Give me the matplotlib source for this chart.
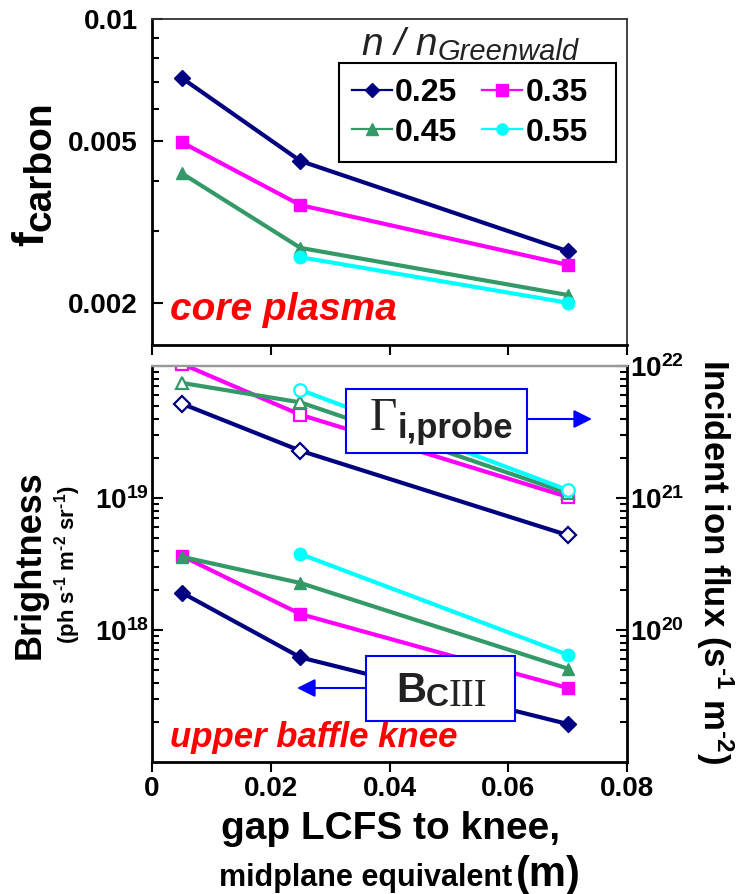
import matplotlib
matplotlib.use('Agg')
import numpy as np
import matplotlib.pyplot as plt
from matplotlib.lines import Line2D
from matplotlib.patches import Rectangle, FancyArrowPatch
from matplotlib.ticker import FixedLocator, FixedFormatter, LogLocator, NullFormatter

plt.rcParams['font.family'] = ['Liberation Sans', 'DejaVu Sans']
plt.rcParams['font.weight'] = 'bold'
plt.rcParams['mathtext.fontset'] = 'custom'
plt.rcParams['mathtext.rm'] = 'Liberation Sans:bold'
plt.rcParams['mathtext.bf'] = 'Liberation Sans:bold'
plt.rcParams['mathtext.it'] = 'Liberation Sans:italic'
plt.rcParams['mathtext.sf'] = 'Liberation Sans'

# ---------------- data ----------------
densities = ['0.25', '0.35', '0.45', '0.55']
colors = ['#000080', '#FF00FF', '#339966', '#00FFFF']
markers = ['D', 's', '^', 'o']
gap = [0.005, 0.025, 0.07]
nan = np.nan

fcarbon_025 = [0.00716, 0.00447, 0.00268]
fcarbon_035 = [0.00497, 0.00348, 0.00248]
fcarbon_045 = [0.00417, 0.00273, 0.00209]
fcarbon_055 = [nan, 0.00259, 0.00200]

bright_025 = [1.92e18, 6.2e17, 1.94e17]
bright_035 = [3.65e18, 1.32e18, 3.64e17]
bright_045 = [3.59e18, 2.27e18, 5.1e17]
bright_055 = [nan, 3.76e18, 6.5e17]

flux_025 = [5.19e21, 2.28e21, 5.23e20]
flux_035 = [1.04e22, 4.27e21, 1.02e21]
flux_045 = [7.45e21, 5.3e21, 1.09e21]
flux_055 = [nan, 6.6e21, 1.15e21]

fcarbon = [fcarbon_025, fcarbon_035, fcarbon_045, fcarbon_055]
bright = [bright_025, bright_035, bright_045, bright_055]
flux = [flux_025, flux_035, flux_045, flux_055]

xticks = [0, 0.02, 0.04, 0.06, 0.08]
xticklabels = ['0', '0.02', '0.04', '0.06', '0.08']
top_yticks = [0.002, 0.005, 0.01]
top_yticklabels = ['0.002', '0.005', '0.01']

# ---------------- figure ----------------
W, H = 736, 894
fig = plt.figure(figsize=(W / 100, H / 100), dpi=100)
renderer = fig.canvas.get_renderer()

def fx(px):
    return px / W

def fy(py):
    return 1 - py / H

L, R = 152, 627
ax1 = fig.add_axes([fx(L), fy(345), fx(R) - fx(L), fy(19) - fy(345)])
ax2 = fig.add_axes([fx(L), fy(762), fx(R) - fx(L), fy(366) - fy(762)])
ax3 = ax2.twinx()

LW = 3.0
for vals, c, m in zip(fcarbon, colors, markers):
    ms = 8 if m == 'D' else 9
    ax1.plot(gap, vals, color=c, marker=m, ms=ms, lw=LW, mec=c, mfc=c)

for vals, c, m in zip(bright, colors, markers):
    ms = 8 if m == 'D' else 9
    ax2.plot(gap, vals, color=c, marker=m, ms=ms, lw=LW, mec=c, mfc=c)

for vals, c, m in zip(flux, colors, markers):
    ms = 8 if m == 'D' else 9
    ax3.plot(gap, vals, color=c, marker=m, ms=ms, lw=LW, mec=c, mfc='white', mew=1.6)

# ---------------- axes styling ----------------
for ax in (ax1, ax2):
    ax.set_xlim(0, 0.08)
    ax.set_xticks(xticks)
    ax.tick_params(axis='x', direction='out', length=7, width=1.5)

ax1.set_xticklabels([])
ax2.set_xticklabels(xticklabels, fontsize=20, fontweight='bold')
ax2.tick_params(axis='x', pad=3)

ax1.set_yscale('log')
ax1.set_ylim(0.001574, 0.01)
ax1.yaxis.set_major_locator(FixedLocator(top_yticks))
ax1.yaxis.set_major_formatter(FixedFormatter(top_yticklabels))
ax1.yaxis.set_minor_locator(LogLocator(base=10, subs=np.arange(2, 10)))
ax1.yaxis.set_minor_formatter(NullFormatter())
ax1.tick_params(axis='y', which='major', direction='in', length=8, width=1.5, labelsize=20, pad=10)
ax1.tick_params(axis='y', which='minor', direction='in', length=5, width=1.5)

ax2.set_yscale('log')
ax2.set_ylim(1e17, 1e20)
ax2.yaxis.set_major_locator(FixedLocator([1e18, 1e19]))
ax2.yaxis.set_major_formatter(FixedFormatter([r'10$^{\mathbf{18}}$', r'10$^{\mathbf{19}}$']))
ax2.yaxis.set_minor_locator(LogLocator(base=10, subs=np.arange(2, 10)))
ax2.yaxis.set_minor_formatter(NullFormatter())
ax2.tick_params(axis='y', which='major', direction='in', length=8, width=1.5, labelsize=20, pad=2)
ax2.tick_params(axis='y', which='minor', direction='in', length=5, width=1.5)

ax3.set_yscale('log')
ax3.set_ylim(1e19, 1e22)
ax3.yaxis.set_major_locator(FixedLocator([1e20, 1e21, 1e22]))
ax3.yaxis.set_major_formatter(FixedFormatter([r'10$^{\mathbf{20}}$', r'10$^{\mathbf{21}}$', r'10$^{\mathbf{22}}$']))
ax3.yaxis.set_minor_locator(LogLocator(base=10, subs=np.arange(2, 10)))
ax3.yaxis.set_minor_formatter(NullFormatter())
ax3.tick_params(axis='y', which='major', direction='in', length=8, width=1.5, labelsize=20, pad=2)
ax3.tick_params(axis='y', which='minor', direction='in', length=5, width=1.5)

for lab in ax1.get_yticklabels() + ax2.get_yticklabels() + ax3.get_yticklabels():
    lab.set_fontweight('bold')

for ax in (ax1, ax2, ax3):
    for s in ('left', 'bottom', 'right'):
        ax.spines[s].set_linewidth(2)
        ax.spines[s].set_color('black')
ax1.spines['top'].set_color('#333333')
ax1.spines['top'].set_linewidth(1.3)
ax1.spines['right'].set_color('#333333')
ax1.spines['right'].set_linewidth(1.3)
for ax in (ax2, ax3):
    ax.spines['top'].set_color('#999999')
    ax.spines['top'].set_linewidth(1.6)
ax2.spines['right'].set_visible(False)
ax3.spines['left'].set_visible(False)
ax3.spines['bottom'].set_visible(False)

# ---------------- helpers ----------------
def chain(x0, pieces, rotate=False):
    """Place text pieces one after another (horizontally, or upward if rotate)."""
    pos = x0
    for s, base, kw in pieces:
        if rotate:
            t = fig.text(fx(base), fy(pos), s, rotation=90, rotation_mode='anchor',
                         ha='left', va='baseline', **kw)
            bb = t.get_window_extent(renderer)
            pos -= bb.height
        else:
            t = fig.text(fx(pos), fy(base), s, ha='left', va='baseline', **kw)
            bb = t.get_window_extent(renderer)
            pos += bb.width
    return pos

# ---------------- legend ----------------
handles = []
for d, c, m in zip(densities, colors, markers):
    handles.append(Line2D([], [], color=c, marker=m, ms=7 if m == 'D' else 8, lw=1.6, mec=c, mfc=c, label=d))
order = [0, 2, 1, 3]
leg = ax1.legend([handles[i] for i in order], [densities[i] for i in order], ncol=2,
                 loc='upper left', bbox_to_anchor=(fx(352), fy(78)), bbox_transform=fig.transFigure,
                 frameon=False, prop={'size': 23, 'weight': 'bold'}, handlelength=1.25,
                 handletextpad=0.1, columnspacing=0.78, borderpad=0, labelspacing=0.3,
                 borderaxespad=0)
fig.add_artist(Rectangle((fx(339), fy(162)), fx(616) - fx(339), fy(63) - fy(162),
                         transform=fig.transFigure, facecolor='none', edgecolor='black', lw=1.5))

chain(362, [('n / n', 55, dict(fontsize=28, fontweight='normal', fontstyle='italic', color='#222222')),
            ('Greenwald', 60, dict(fontsize=21, fontweight='normal', fontstyle='italic', color='#222222'))])

# ---------------- labels ----------------
chain(246, [('f', 43, dict(fontsize=32, fontweight='bold')),
            ('carbon', 50, dict(fontsize=28, fontweight='bold'))], rotate=True)
fig.text(fx(30), fy(565), 'Brightness', rotation=90, ha='center', va='center',
         fontsize=26, fontweight='bold')
fig.text(fx(68), fy(565), '(ph s$^{\\mathbf{\u20101}}$ m$^{\\mathbf{\u20102}}$ sr$^{\\mathbf{\u20101}}$)',
         rotation=90, ha='center', va='center', fontsize=16, fontweight='bold')
fig.text(fx(715), fy(562), 'Incident ion flux (s$^{\\mathbf{\u20101}}$ m$^{\\mathbf{\u20102}}$)',
         rotation=270, ha='center', va='center', fontsize=25, fontweight='bold')
fig.text(fx(391), fy(829), 'gap LCFS to knee,', ha='center', va='center', fontsize=28, fontweight='bold')
fig.text(fx(512), fy(886), 'midplane equivalent', ha='right', va='baseline', fontsize=22, fontweight='bold')
fig.text(fx(516), fy(886), '(m)', ha='left', va='baseline', fontsize=30, fontweight='bold')

fig.text(fx(170), fy(320), 'core plasma', ha='left', va='baseline', fontsize=28,
         fontweight='bold', fontstyle='italic', color='red')
fig.text(fx(170), fy(747), 'upper baffle knee', ha='left', va='baseline', fontsize=25,
         fontweight='bold', fontstyle='italic', color='red')

# ---------------- annotation boxes ----------------
def add_box(x0, y0, x1, y1):
    fig.add_artist(Rectangle((fx(x0), fy(y1)), fx(x1) - fx(x0), fy(y0) - fy(y1),
                             transform=fig.transFigure, facecolor='white', edgecolor='blue',
                             lw=1.5, zorder=5))

def add_arrow(x0, x1, y):
    fig.add_artist(FancyArrowPatch((fx(x0), fy(y)), (fx(x1), fy(y)), transform=fig.transFigure,
                                   arrowstyle='-|>,head_length=0.5,head_width=0.25',
                                   mutation_scale=22, color='blue', lw=1.5, zorder=5,
                                   shrinkA=0, shrinkB=0))

add_box(346, 389, 527, 453)
add_arrow(527, 592, 419)
chain(370, [('\u0393', 430, dict(fontsize=34, fontweight='normal', family='Liberation Serif',
                                  color='#222222', zorder=6)),
            ('i,probe', 438, dict(fontsize=25, fontweight='bold', color='#222222', zorder=6))])

add_box(366, 656, 515, 721)
add_arrow(366, 297, 688)
chain(396, [('B', 702, dict(fontsize=30, fontweight='bold', color='#222222', zorder=6)),
            ('C', 706, dict(fontsize=23, fontweight='bold', color='#222222', zorder=6)),
            ('III', 706, dict(fontsize=28, fontweight='normal', family='Liberation Serif',
                              color='#222222', zorder=6))])

fig.savefig('out.png', dpi=100)
